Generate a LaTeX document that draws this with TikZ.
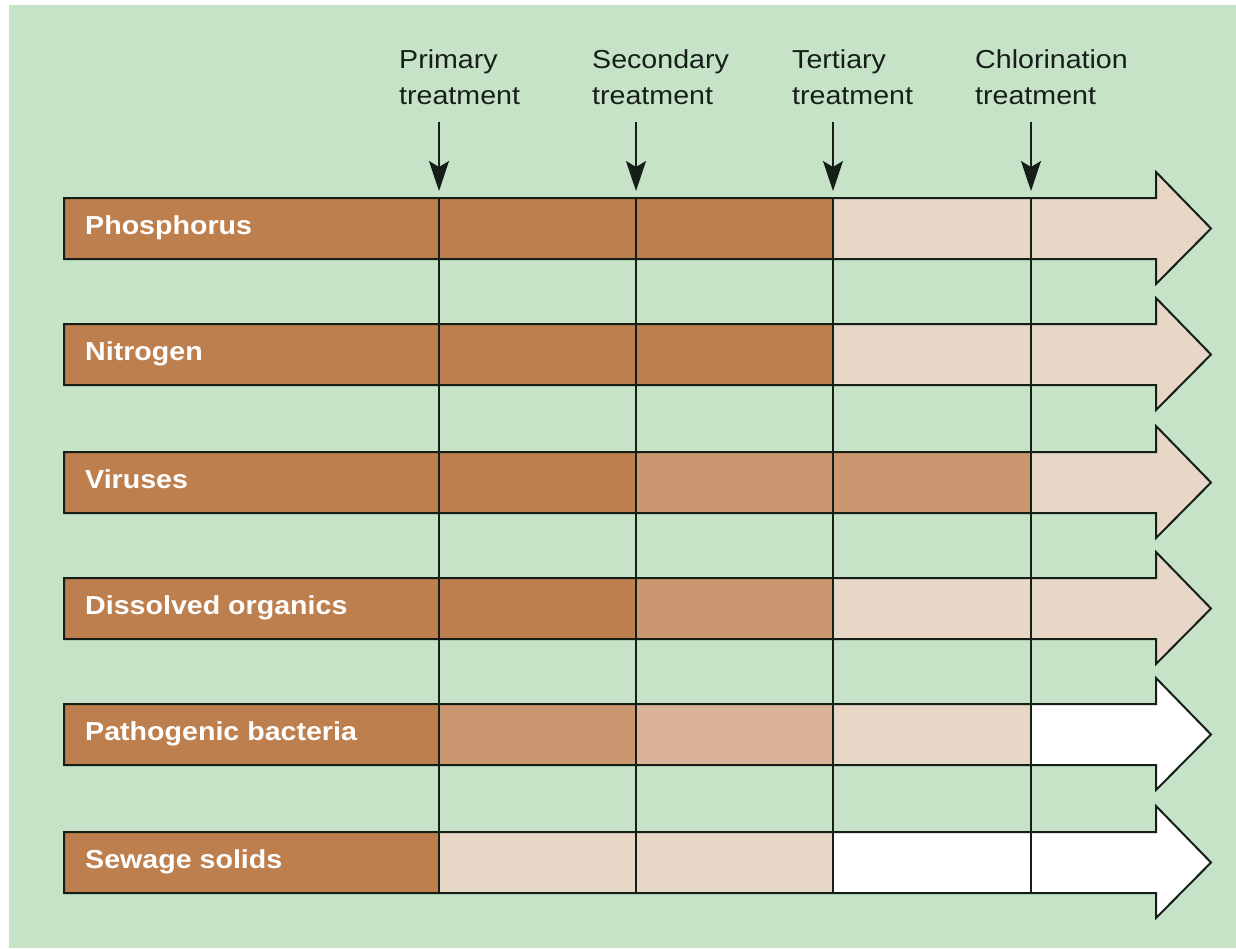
\documentclass[tikz,border=0pt]{standalone}
\usepackage{fontspec}
\newfontfamily\lblfont{Liberation Sans}[FakeStretch=1.1]
\usetikzlibrary{arrows.meta}
\definecolor{bggreen}{RGB}{198,226,199}
\definecolor{cdark}{RGB}{190,127,79}
\definecolor{cmed}{RGB}{203,151,112}
\definecolor{clmed}{RGB}{219,180,151}
\definecolor{clight}{RGB}{232,214,198}
\definecolor{cwhite}{RGB}{255,255,255}
\definecolor{ink}{RGB}{22,30,24}
\tikzset{
  rowlabel/.style={anchor=base west, inner sep=0pt, text=white, font=\lblfont\bfseries\fontsize{26}{30}\selectfont},
  toplabel/.style={anchor=base west, inner sep=0pt, align=left, text=ink, font=\lblfont\fontsize{26}{36}\selectfont},
  outline/.style={draw=ink, line width=2pt, line join=miter},
  divider/.style={draw=ink, line width=2pt},
  stagearrow/.style={draw=ink, line width=2pt, -{Stealth[length=30pt,width=20pt,inset=6pt]}}
}
\begin{document}
\begin{tikzpicture}[x=1pt,y=-1pt]
\useasboundingbox (0,0) rectangle (1236,948);
\fill[white] (0,0) rectangle (1236,948);
\fill[bggreen] (9,5) rectangle (1236,948);
% rows: top, label, colours of label/c1/c2/c3/c4
\foreach \rt/\lab/\ca/\cb/\cc/\cd/\ce/\n in {
  198/Phosphorus/cdark/cdark/cdark/clight/clight/1,
  324/Nitrogen/cdark/cdark/cdark/clight/clight/2,
  452/Viruses/cdark/cdark/cmed/cmed/clight/3,
  578/Dissolved organics/cdark/cdark/cmed/clight/clight/4,
  704/Pathogenic bacteria/cdark/cmed/clmed/clight/cwhite/5,
  832/Sewage solids/cdark/clight/clight/cwhite/cwhite/6}{
  \pgfmathsetmacro{\rb}{\rt+61}
  \pgfmathsetmacro{\rmid}{\rt+30.5}
  \pgfmathsetmacro{\rht}{\rt-26}
  \pgfmathsetmacro{\rhb}{\rb+25}
  \pgfmathsetmacro{\rlab}{\rt+36}
  \fill[\ca] (64,\rt) rectangle (439,\rb);
  \fill[\cb] (439,\rt) rectangle (636,\rb);
  \fill[\cc] (636,\rt) rectangle (833,\rb);
  \fill[\cd] (833,\rt) rectangle (1031,\rb);
  \fill[\ce] (1031,\rt) -- (1156,\rt) -- (1156,\rht) -- (1211,\rmid) -- (1156,\rhb) -- (1156,\rb) -- (1031,\rb) -- cycle;
  \draw[outline] (64,\rt) -- (1156,\rt) -- (1156,\rht) -- (1211,\rmid) -- (1156,\rhb) -- (1156,\rb) -- (64,\rb) -- cycle;
  \node[rowlabel] (r\n) at (85,\rlab) {\lab};
}
% cell dividers
\foreach \x/\n in {439/1,636/2,833/3,1031/4}{
  \coordinate (d\n top) at (\x,198);
  \coordinate (d\n bot) at (\x,893);
  \draw[divider] (d\n top) -- (d\n bot);
}
% stage labels and arrows (base anchor = baseline of last line)
\node[toplabel] (t1) at (399,104) {Primary\\treatment};
\node[toplabel] (t2) at (592,104) {Secondary\\treatment};
\node[toplabel] (t3) at (792,104) {Tertiary\\treatment};
\node[toplabel] (t4) at (975,104) {Chlorination\\treatment};
\foreach \x/\n in {439/1,636/2,833/3,1031/4}{
  \coordinate (a\n s) at (\x,122);
  \coordinate (a\n e) at (\x,191);
  \draw[stagearrow] (a\n s) -- (a\n e);
}
\end{tikzpicture}
\end{document}
